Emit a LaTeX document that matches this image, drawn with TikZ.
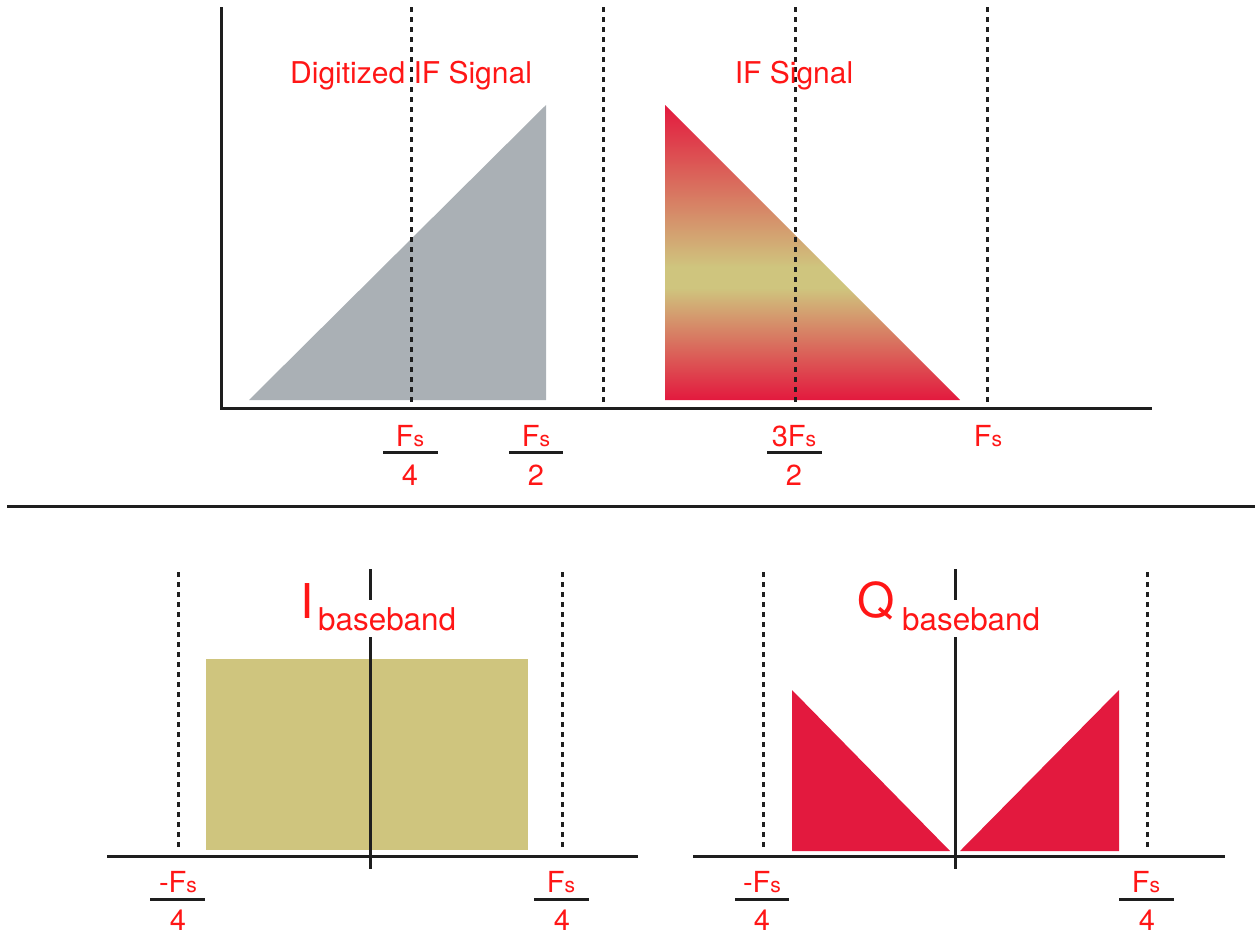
\documentclass[tikz,border=0pt]{standalone}
\usepackage{fontspec}
\setmainfont{TeX Gyre Heros}
\definecolor{lbl}{RGB}{255,22,22}
\definecolor{axiscol}{RGB}{30,30,30}
\definecolor{grayfill}{RGB}{170,176,181}
\definecolor{khaki}{RGB}{207,197,126}
\definecolor{crim}{RGB}{227,25,62}
\pgfdeclareverticalshading{ifshade}{100bp}{color(0bp)=(crim); color(25bp)=(crim); color(44bp)=(khaki); color(47.5bp)=(khaki); color(75bp)=(crim); color(100bp)=(crim)}
\newcommand\FsTxt{F{\fontsize{21}{21}\selectfont s}}
\tikzset{
  axisline/.style={draw=axiscol, line width=3pt},
  dotline/.style={draw=axiscol, line width=3pt, dash pattern=on 5pt off 5pt},
  barline/.style={draw=axiscol, line width=3pt},
  lab/.style={text=lbl, inner sep=0pt, font=\fontsize{29}{29}\selectfont},
  title/.style={text=lbl, inner sep=0pt, font=\fontsize{30}{30}\selectfont},
  bigletter/.style={text=lbl, inner sep=0pt, font=\fontsize{48}{48}\selectfont},
  subword/.style={text=lbl, fill=white, inner xsep=2pt, inner ysep=7pt, font=\fontsize{31.4}{31.4}\selectfont},
}
\begin{document}
\begin{tikzpicture}[x=1pt, y=-1pt]
\useasboundingbox (0,0) rectangle (1255,935);

% ---------- top panel ----------
\fill[grayfill] (249,400) -- (546,400) -- (546,105) -- cycle;
\shade[shading=ifshade] (665,105) -- (665,400) -- (960,400) -- cycle;

\coordinate (vtop) at (221,7);
\coordinate (origin) at (221,408);
\coordinate (hend) at (1152,408);
\draw[axisline] (vtop) -- (origin) -- (hend);

\foreach \x/\n in {411/a,603/b,795/c,987/d}{
  \coordinate (dt\n) at (\x,7);
  \coordinate (db\n) at (\x,408);
  \draw[dotline] (dt\n) -- (db\n);
}

\node[title, anchor=base west] (t1) at (290,83) {Digitized IF Signal};
\node[title, anchor=base] (t2) at (794,83) {IF Signal};

% fractions top
\node[lab, anchor=base] (f1n) at (410,446) {\FsTxt};
\coordinate (f1l) at (383,452.5); \coordinate (f1r) at (438,452.5);
\draw[barline] (f1l) -- (f1r);
\node[lab, anchor=base] (f1d) at (410,485) {4};

\node[lab, anchor=base] (f2n) at (536,446) {\FsTxt};
\coordinate (f2l) at (509,452.5); \coordinate (f2r) at (563,452.5);
\draw[barline] (f2l) -- (f2r);
\node[lab, anchor=base] (f2d) at (536,485) {2};

\node[lab, anchor=base] (f3n) at (794,446) {3\FsTxt};
\coordinate (f3l) at (767,452.5); \coordinate (f3r) at (822,452.5);
\draw[barline] (f3l) -- (f3r);
\node[lab, anchor=base] (f3d) at (794,485) {2};

\node[lab, anchor=base] (f4n) at (988,446) {\FsTxt};

% separator
\coordinate (sepl) at (7,506);
\coordinate (sepr) at (1255,506);
\draw[axisline] (sepl) -- (sepr);

% ---------- bottom left ----------
\fill[khaki] (206,659) rectangle (528,850);
\coordinate (ilv) at (370,569); \coordinate (ilb) at (370,869);
\draw[axisline] (ilv) -- (ilb);
\coordinate (ihl) at (107,856); \coordinate (ihr) at (638,856);
\draw[axisline] (ihl) -- (ihr);
\coordinate (id1t) at (178,572); \coordinate (id1b) at (178,850);
\draw[dotline] (id1t) -- (id1b);
\coordinate (id2t) at (562,572); \coordinate (id2b) at (562,850);
\draw[dotline] (id2t) -- (id2b);

\node[bigletter, anchor=base west] (iI) at (300,618) {I};
\node[subword, anchor=base west] (iB) at (316,630) {baseband};

\node[lab, anchor=base] (g1n) at (178,892) {-\FsTxt};
\coordinate (g1l) at (150,899) ; \coordinate (g1r) at (205,899);
\draw[barline] (g1l) -- (g1r);
\node[lab, anchor=base] (g1d) at (178,930) {4};

\node[lab, anchor=base] (g2n) at (561,892) {\FsTxt};
\coordinate (g2l) at (534,899); \coordinate (g2r) at (589,899);
\draw[barline] (g2l) -- (g2r);
\node[lab, anchor=base] (g2d) at (562,930) {4};

% ---------- bottom right ----------
\fill[crim] (792,690) -- (792,851) -- (950,851) -- cycle;
\fill[crim] (960,851) -- (1119,851) -- (1119,690) -- cycle;
\coordinate (qlv) at (955,569); \coordinate (qlb) at (955,869);
\draw[axisline] (qlv) -- (qlb);
\coordinate (qhl) at (693,856); \coordinate (qhr) at (1225,856);
\draw[axisline] (qhl) -- (qhr);
\coordinate (qd1t) at (763,572); \coordinate (qd1b) at (763,850);
\draw[dotline] (qd1t) -- (qd1b);
\coordinate (qd2t) at (1147,572); \coordinate (qd2b) at (1147,850);
\draw[dotline] (qd2t) -- (qd2b);

\node[bigletter, anchor=base west] (qQ) at (857,617) {Q};
\node[subword, anchor=base west] (qB) at (900,630) {baseband};

\node[lab, anchor=base] (h1n) at (762,892) {-\FsTxt};
\coordinate (h1l) at (735,899); \coordinate (h1r) at (789,899);
\draw[barline] (h1l) -- (h1r);
\node[lab, anchor=base] (h1d) at (762,930) {4};

\node[lab, anchor=base] (h2n) at (1146,892) {\FsTxt};
\coordinate (h2l) at (1119,899); \coordinate (h2r) at (1174,899);
\draw[barline] (h2l) -- (h2r);
\node[lab, anchor=base] (h2d) at (1147,930) {4};
\end{tikzpicture}
\end{document}
